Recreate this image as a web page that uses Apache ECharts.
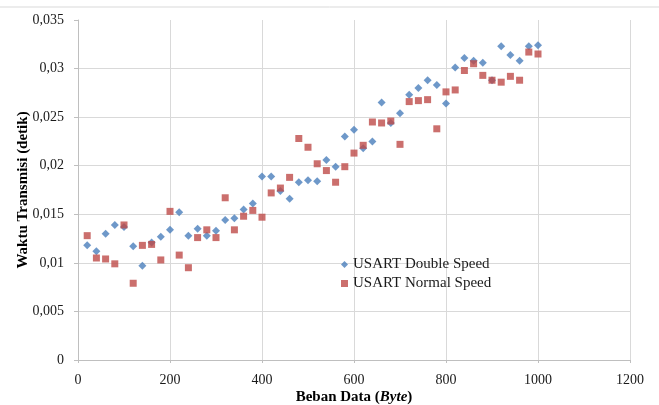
<!DOCTYPE html>
<html>
<head>
<meta charset="utf-8">
<script src="https://cdn.jsdelivr.net/npm/echarts@6/dist/echarts.min.js"></script>
<style>
html,body{margin:0;padding:0;background:#fff;}
#scatterchart{width:659px;height:405px;}
</style>
</head>
<body>
<div id="scatterchart"></div>
<script>
// beban data (byte)
var bebanData = [20,40,60,80,100,120,140,160,180,200,220,240,260,280,300,320,340,360,380,400,
    420,440,460,480,500,520,540,560,580,600,620,640,660,680,700,720,740,760,780,800,
    820,840,860,880,900,920,940,960,980,1000]

// waktu transmisi (detik)
var doubleSpeed = [0.0118,0.0112,0.0130,0.0139,0.0137,0.0117,0.0097,0.0121,0.0127,0.0134,
    0.0152,0.0128,0.0135,0.0128,0.0133,0.0144,0.0146,0.0155,0.0161,0.0189,
    0.0189,0.0174,0.0166,0.0183,0.0185,0.0184,0.0206,0.0199,0.0230,0.0237,
    0.0218,0.0225,0.0265,0.0244,0.0254,0.0273,0.0280,0.0288,0.0283,0.0264,
    0.0301,0.0311,0.0308,0.0306,0.0288,0.0323,0.0314,0.0308,0.0323,0.0324]

var normalSpeed = [0.0128,0.0105,0.0104,0.0099,0.0139,0.0079,0.0118,0.0119,0.0103,0.0153,
    0.0108,0.0095,0.0126,0.0134,0.0126,0.0167,0.0134,0.0148,0.0154,0.0147,
    0.0172,0.0177,0.0188,0.0228,0.0219,0.0202,0.0195,0.0183,0.0199,0.0213,
    0.0221,0.0245,0.0244,0.0246,0.0222,0.0266,0.0267,0.0268,0.0238,0.0276,
    0.0278,0.0298,0.0305,0.0293,0.0288,0.0286,0.0292,0.0288,0.0317,0.0315]

var serifFont = '"Liberation Serif","Times New Roman",serif'

function pairs(ys){
    return bebanData.map(function(x,i){ return [x, ys[i]] })
}

var chart = echarts.init(document.getElementById('scatterchart'))

var options = {
    animation:false,
    grid:{
        left:78,
        right:29,
        top:20,
        bottom:45,
        outerBoundsMode:'none'
    },
    legend:{
        orient:'vertical',
        left:336,
        top:252,
        itemWidth:7,
        itemHeight:7,
        itemGap:4,
        textStyle:{
            fontFamily:serifFont,
            fontSize:15,
            color:'#1a1a1a'
        },
        data:[
            {name:'USART Double Speed', icon:'diamond'},
            {name:'USART Normal Speed', icon:'rect'}
        ]
    },
    xAxis:{
        type:'value',
        min:0,
        max:1200,
        interval:200,
        name:'Beban Data ({i|Byte})',
        nameLocation:'middle',
        nameGap:30,
        nameMoveOverlap:false,
        nameTextStyle:{
            fontFamily:serifFont,
            fontSize:15,
            fontWeight:'bold',
            color:'#000',
            rich:{
                i:{
                    fontFamily:serifFont,
                    fontSize:15,
                    fontWeight:'bold',
                    fontStyle:'italic',
                    color:'#000'
                }
            }
        },
        axisLine:{ lineStyle:{ color:'#bfbfbf' } },
        axisTick:{ length:3, lineStyle:{ color:'#bfbfbf' } },
        splitLine:{ show:true, lineStyle:{ color:'#d9d9d9' } },
        axisLabel:{
            margin:13,
            fontFamily:serifFont,
            fontSize:14,
            color:'#1a1a1a',
            formatter:function(v){ return String(v) }
        }
    },
    yAxis:{
        type:'value',
        min:0,
        max:0.035,
        interval:0.005,
        name:'Waktu Transmisi (detik)',
        nameLocation:'middle',
        nameGap:47,
        nameMoveOverlap:false,
        nameTextStyle:{
            fontFamily:serifFont,
            fontSize:15,
            fontWeight:'bold',
            color:'#000'
        },
        axisLine:{ show:true, lineStyle:{ color:'#bfbfbf' } },
        axisTick:{ show:true, length:4, lineStyle:{ color:'#bfbfbf' } },
        splitLine:{ show:true, showMaxLine:false, lineStyle:{ color:'#d9d9d9' } },
        axisLabel:{
            margin:14,
            fontFamily:serifFont,
            fontSize:14,
            color:'#1a1a1a',
            formatter:function(v){
                return String(+v.toFixed(3)).replace('.', ',')
            }
        }
    },
    graphic:[{
        type:'line',
        shape:{ x1:0, y1:7, x2:659, y2:7 },
        style:{ stroke:'#d9d9d9', lineWidth:1 }
    }],
    series:[
        {
            name:'USART Double Speed',
            type:'scatter',
            symbol:'diamond',
            symbolSize:8,
            itemStyle:{ color:'#4a7ebb' },
            data:pairs(doubleSpeed)
        },
        {
            name:'USART Normal Speed',
            type:'scatter',
            symbol:'rect',
            symbolSize:7,
            itemStyle:{ color:'#be4b48' },
            data:pairs(normalSpeed)
        }
    ]
}

chart.setOption(options)
</script>
</body>
</html>
